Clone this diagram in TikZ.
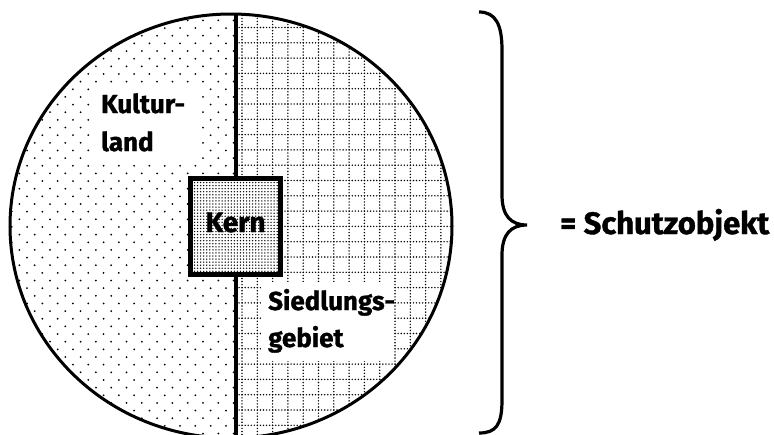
\documentclass[tikz,border=0pt]{standalone}
\usepackage{fontspec}
\setmainfont{Fira Sans}[BoldFeatures={FakeBold=1.2}]
\begin{document}
\begin{tikzpicture}[x=1pt,y=-1pt,
  lbl/.style={font=\bfseries\fontsize{26}{30}\selectfont, inner sep=0pt, anchor=base west},
  bigl/.style={font=\bfseries\fontsize{28}{32}\selectfont, inner sep=0pt},
  thick line/.style={line width=3.2pt},
  griddots/.style={line width=1.6pt, line cap=round, dash pattern=on 0pt off 3.06pt}]
\useasboundingbox (0,0) rectangle (774,434);
% left half: sparse staggered dots
\begin{scope}
  \clip (231,226) ellipse [x radius=221, y radius=212];
  \clip (0,0) rectangle (236,440);
  \foreach \k in {-13,...,15} {
    \foreach \i in {-3,...,12} {
      \fill ({50+15.3*\i},{204+15.3*\k}) circle (1.0);
      \fill ({42.35+15.3*\i},{211.65+15.3*\k}) circle (1.0);
    }
  }
\end{scope}
% right half: dotted grid
\begin{scope}
  \clip (231,226) ellipse [x radius=221, y radius=212];
  \clip (236,0) rectangle (470,440);
  \foreach \k in {0,...,14} \draw[griddots] ({242+15.3*\k},0) -- ({242+15.3*\k},440);
  \foreach \k in {0,...,28} \draw[griddots] (236,{12.2+15.3*\k}) -- (470,{12.2+15.3*\k});
\end{scope}
% white label areas
\fill[white] (93,87) rectangle (200,162);
\fill[white] (261,282) rectangle (393,361);
% dividing line and outline
\coordinate (vtop) at (236,14);
\coordinate (vbot) at (236,440);
\draw[thick line] (vtop) -- (vbot);
\draw[line width=3pt] (231,226) ellipse [x radius=221, y radius=212];
% Kern
\node[draw, line width=3.2pt, fill=white, minimum width=89pt, minimum height=95pt, inner sep=0pt] (kern) at (235.5,226.5) {};
\begin{scope}
  \clip (191,179) rectangle (280,274);
  \foreach \i in {0,...,29} {
    \foreach \j in {0,...,31} {
      \fill ({191.5+3.06*\i},{179.5+3.06*\j}) circle (0.75);
    }
  }
\end{scope}
\draw[line width=3.2pt] (kern.north west) rectangle (kern.south east);
\node[bigl, anchor=base] (kerntxt) at (235.5,232) {Kern};
% labels
\node[lbl] (kult1) at (101,113) {Kultur-};
\node[lbl] (kult2) at (101,151) {land};
\node[lbl] (sied1) at (268,310) {Siedlungs-};
\node[lbl] (sied2) at (268,347) {gebiet};
% brace
\draw[thick line] (479,12) .. controls (496,12) and (502,25) .. (502,50) -- (502,195)
  .. controls (502,216) and (511,225) .. (527,225)
  .. controls (511,225) and (502,234) .. (502,255) -- (502,400)
  .. controls (502,425) and (496,433) .. (479,433);
\node[bigl, anchor=base west, font=\bfseries\fontsize{31}{34}\selectfont] (schutz) at (560,234) {= Schutzobjekt};
\end{tikzpicture}
\end{document}
